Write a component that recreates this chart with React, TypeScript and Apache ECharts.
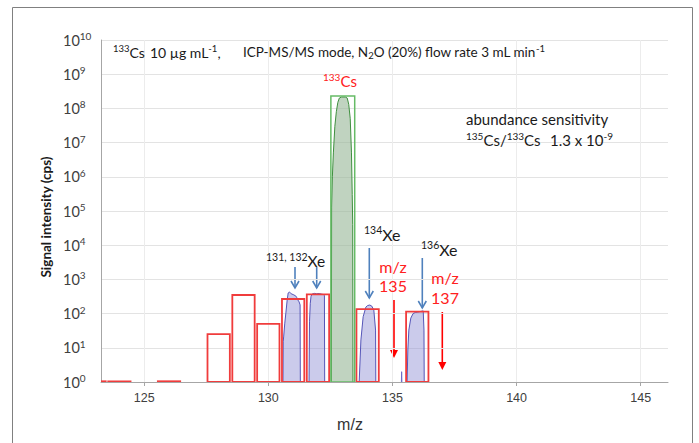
import React, { useEffect, useRef } from 'react';
import * as echarts from 'echarts';

// ---------- data ----------
const xTicks = [125, 130, 135, 140, 145];

// integrated intensities (red boxes), m/z and cps
const barMz = [123, 124, 126, 128, 129, 130, 131, 132, 134, 136];
const barValues = [1.05, 1.05, 1.05, 25, 350, 50, 267, 366, 136, 114];

// 133Cs box (green)
const csMz = [133];
const csValues = [2.3e8];

// measured peak profiles
const peak131Mz = [130.59, 130.6, 130.62, 130.66, 130.71, 130.76, 130.8, 130.85, 130.92, 131.0, 131.1, 131.14, 131.19, 131.24, 131.28, 131.29];
const peak131Val = [1, 15, 22, 50, 110, 250, 400, 430, 380, 360, 330, 300, 250, 220, 180, 1];

const peak132Mz = [131.64, 131.66, 131.69, 131.72, 131.76, 131.85, 131.95, 132.05, 132.15, 132.22, 132.26, 132.27];
const peak132Val = [1, 60, 200, 320, 370, 390, 380, 385, 370, 360, 340, 1];

const peak133Mz = [132.54, 132.55, 132.58, 132.62, 132.68, 132.74, 132.8, 132.86, 132.95, 133.1, 133.18, 133.24, 133.3, 133.35, 133.38, 133.4, 133.41];
const peak133Val = [1, 1.3e5, 1e6, 5e6, 3e7, 8e7, 1.5e8, 2e8, 2.15e8, 2.15e8, 2e8, 1.3e8, 5e7, 5e6, 3e5, 4e4, 1];

const peak134Mz = [133.66, 133.73, 133.82, 133.93, 134.0, 134.09, 134.17, 134.25, 134.32, 134.33];
const peak134Val = [1, 17, 81, 155, 172, 178, 165, 127, 33, 1];

const peak136Mz = [135.59, 135.62, 135.66, 135.74, 135.83, 135.92, 136.02, 136.12, 136.24, 136.27, 136.28];
const peak136Val = [1, 8.6, 33, 74, 100, 108, 111, 115, 120, 33, 1];

const spikeMz = [135.36, 135.37, 135.38];
const spikeVal = [1, 2, 1];

// ---------- styles ----------
const FONT = 'Lato, "Open Sans", sans-serif';
const ARIAL = '"Liberation Sans", Arial, sans-serif';
const BLUE_FILL = 'rgba(140,140,210,0.45)';
const BLUE_LINE = '#5555b8';
const RED = '#f03c3c';
const RED_TXT = '#ff2020';
const ARROW_BLUE = '#4f81bd';

const lg = (v: number) => Math.log10(v);
const pairs = (xs: number[], vs: number[]) => xs.map((x, i) => [x, lg(vs[i])]);

function rectSeries(name: string, xs: number[], vs: number[], half: number, stroke: string, lw: number) {
  return {
    name,
    type: 'custom',
    clip: true,
    z: 5,
    data: pairs(xs, vs),
    renderItem: (_p: any, api: any) => {
      const x = api.value(0);
      const v = api.value(1);
      const p0 = api.coord([x - half, 0]);
      const p1 = api.coord([x + half, v]);
      return {
        type: 'rect',
        shape: { x: p0[0], y: p1[1], width: p1[0] - p0[0], height: Math.max(p0[1] - p1[1], 0) },
        style: { fill: 'none', stroke, lineWidth: lw },
      };
    },
  };
}

function peakSeries(name: string, xs: number[], vs: number[], line: string, fill: string) {
  return {
    name,
    type: 'line',
    data: pairs(xs, vs),
    symbol: 'none',
    z: 3,
    lineStyle: { color: line, width: 1 },
    areaStyle: { color: fill, opacity: 1, origin: 'start' },
  };
}

const txtStyles = (fill: string, size: number, supSize: number) => ({
  t: { fill, fontFamily: FONT, fontSize: size, lineHeight: size + 4 },
  s: { fill, fontFamily: FONT, fontSize: supSize, lineHeight: supSize + 1, verticalAlign: 'top' },
  u: { fill, fontFamily: FONT, fontSize: supSize, lineHeight: supSize + 1, verticalAlign: 'bottom' },
});

function label(x: number, y: number, text: string, fill: string, size = 14, supSize = 9.5, align = 'left') {
  return {
    type: 'text',
    x,
    y,
    silent: true,
    z: 20,
    style: { text, rich: txtStyles(fill, size, supSize), align, verticalAlign: 'middle', fill, fontFamily: FONT, fontSize: size },
  };
}

function arrow(x: number, y1: number, y2: number, color: string, filled: boolean) {
  if (filled) {
    return {
      type: 'group',
      silent: true,
      z: 20,
      children: [
        { type: 'line', shape: { x1: x, y1, x2: x, y2: y2 - 6 }, style: { stroke: color, lineWidth: 1.6 } },
        { type: 'polygon', shape: { points: [[x - 4, y2 - 8], [x, y2], [x + 4, y2 - 8]] }, style: { fill: color } },
      ],
    };
  }
  return {
    type: 'group',
    silent: true,
    z: 20,
    children: [
      { type: 'line', shape: { x1: x, y1, x2: x, y2 }, style: { stroke: color, lineWidth: 1.6 } },
      { type: 'polyline', shape: { points: [[x - 4, y2 - 7], [x, y2], [x + 4, y2 - 7]] }, style: { stroke: color, lineWidth: 1.6, fill: 'none' } },
    ],
  };
}

export default function App() {
  const ref = useRef<HTMLDivElement>(null);
  useEffect(() => {
    if (!ref.current) return;
    const chart = echarts.init(ref.current, undefined, { renderer: 'svg' });
    const option: any = {
      animation: false,
      backgroundColor: '#ffffff',
      grid: { left: 101, right: 31, top: 40, bottom: 61 },
      xAxis: {
        type: 'value',
        min: 123.26,
        max: 146.1,
        axisLine: { show: true, lineStyle: { color: '#a6a6a6', width: 1 } },
        axisTick: { show: true, customValues: xTicks, length: 4, lineStyle: { color: '#a6a6a6' } },
        axisLabel: { customValues: xTicks, fontSize: 12.5, color: '#404040', fontFamily: ARIAL, margin: 9 },
        splitLine: { show: false },
      },
      yAxis: {
        type: 'value',
        min: 0,
        max: 10,
        interval: 1,
        axisLine: { show: true, lineStyle: { color: '#a6a6a6', width: 1 } },
        axisTick: { show: false },
        splitLine: { show: true, lineStyle: { color: '#e3e3e3', width: 1 } },
        axisLabel: {
          align: 'left',
          margin: 38,
          formatter: (v: number) => `{b|10}{s|${v}}`,
          rich: {
            b: { fontFamily: FONT, fontSize: 14.5, color: '#404040', lineHeight: 18 },
            s: { fontFamily: FONT, fontSize: 10, color: '#404040', lineHeight: 11, verticalAlign: 'top' },
          },
        },
      },
      series: [
        {
          name: 'grid',
          type: 'line',
          data: [],
          markLine: {
            silent: true,
            symbol: 'none',
            label: { show: false },
            lineStyle: { color: '#ececec', type: 'solid', width: 1 },
            data: xTicks.map((v) => ({ xAxis: v })),
          },
        },
        peakSeries('131Xe', peak131Mz, peak131Val, BLUE_LINE, BLUE_FILL),
        peakSeries('132Xe', peak132Mz, peak132Val, BLUE_LINE, BLUE_FILL),
        peakSeries('134Xe', peak134Mz, peak134Val, BLUE_LINE, BLUE_FILL),
        peakSeries('136Xe', peak136Mz, peak136Val, BLUE_LINE, BLUE_FILL),
        peakSeries('spike', spikeMz, spikeVal, '#6a6ac8', 'rgba(0,0,0,0)'),
        peakSeries('133Cs', peak133Mz, peak133Val, '#3f8f3f', 'rgba(150,182,150,0.6)'),
        rectSeries('bars', barMz, barValues, 0.45, RED, 1.8),
        rectSeries('cs', csMz, csValues, 0.48, '#66bb66', 1.5),
      ],
      graphic: [
        { type: 'rect', silent: true, z: -10, shape: { x: 12.5, y: 7.5, width: 680, height: 460 }, style: { fill: 'none', stroke: '#808080', lineWidth: 1 } },
        // axis titles
        {
          type: 'text', x: 46, y: 217, rotation: Math.PI / 2, silent: true,
          style: { text: 'Signal intensity (cps)', fill: '#1a1a1a', fontFamily: FONT, fontSize: 13.5, fontWeight: 'bold', align: 'center', verticalAlign: 'middle' },
        },
        {
          type: 'text', x: 350, y: 424, silent: true,
          style: { text: 'm/z', fill: '#333333', fontFamily: ARIAL, fontSize: 16, align: 'center', verticalAlign: 'middle' },
        },
        // header
        label(113, 52, '{s|133}{t|Cs}', '#1a1a1a', 14, 9.5),
        label(150, 52, '{t|10 µg mL}{s|-1}{t|,}', '#1a1a1a', 14, 9.5),
        label(243, 52, '{t|ICP-MS/MS mode, N}{u|2}{t|O (20%) flow rate 3 mL min}{s|-1}', '#1a1a1a', 13.5, 9.5),
        // abundance sensitivity
        label(466, 119, '{t|abundance sensitivity}', '#1a1a1a', 15, 10),
        label(466, 140, '{s|135}{t|Cs/}{s|133}{t|Cs}', '#1a1a1a', 15, 10),
        label(550, 140, '{t|1.3 x 10}{s|-9}', '#1a1a1a', 15, 10),
        // peak labels
        label(323, 81, '{s|133}{t|Cs}', RED_TXT, 15, 10),
        label(266, 261, '{s|131, 132}{t|Xe}', '#1a1a1a', 15.5, 10.5),
        label(364, 234, '{s|134}{t|Xe}', '#1a1a1a', 16, 10.5),
        label(421, 249, '{s|136}{t|Xe}', '#1a1a1a', 16, 10.5),
        {
          type: 'text', x: 393, y: 276, silent: true, z: 20,
          style: { text: 'm/z\n135', fill: RED_TXT, fontFamily: FONT, fontSize: 16, lineHeight: 19, align: 'center', verticalAlign: 'middle' },
        },
        {
          type: 'text', x: 445, y: 287, silent: true, z: 20,
          style: { text: 'm/z\n137', fill: RED_TXT, fontFamily: FONT, fontSize: 16, lineHeight: 20, align: 'center', verticalAlign: 'middle' },
        },
        // arrows
        arrow(295, 267, 288, ARROW_BLUE, false),
        arrow(316.7, 267, 288, ARROW_BLUE, false),
        arrow(369.3, 248, 298, ARROW_BLUE, false),
        arrow(422.3, 258, 308, ARROW_BLUE, false),
        arrow(394, 300, 358, '#ff0000', true),
        arrow(442.3, 312, 370, '#ff0000', true),
      ],
    };
    chart.setOption(option);
    return () => chart.dispose();
  }, []);
  return (
    <div
      ref={ref}
      style={{ position: 'fixed', left: 0, top: 0, width: 699, height: 443, background: '#fff' }}
    />
  );
}
